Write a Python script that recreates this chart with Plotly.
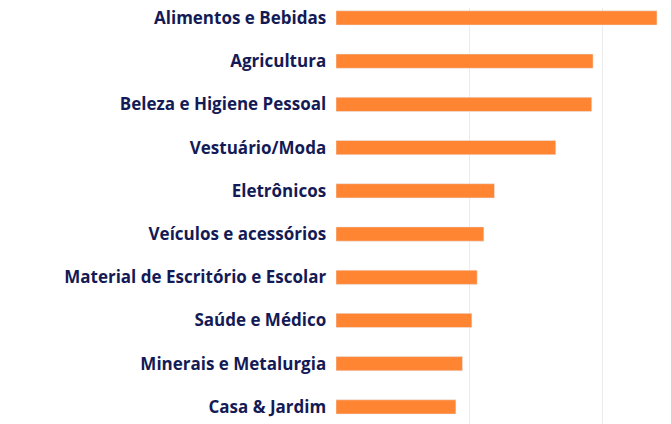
import plotly.graph_objects as go

categories = ["Alimentos e Bebidas", "Agricultura", "Beleza e Higiene Pessoal",
              "Vestuário/Moda", "Eletrônicos", "Veículos e acessórios",
              "Material de Escritório e Escolar", "Saúde e Médico",
              "Minerais e Metalurgia", "Casa & Jardim"]
values = [241, 193, 192, 165, 119, 111, 106, 102, 95, 90]

fig = go.Figure(go.Bar(
    x=values, y=categories, orientation="h",
    marker_color="#ff8533", width=0.33,
))
fig.update_layout(
    width=671, height=424,
    margin=dict(l=328, r=10, t=0, b=0),
    plot_bgcolor="white", paper_bgcolor="white",
    showlegend=False,
    xaxis=dict(range=[0, 250], tickvals=[100, 200], showticklabels=False,
               showgrid=True, gridcolor="#ebebeb", zeroline=False),
    yaxis=dict(categoryorder="array", categoryarray=categories,
               range=[9.58, -0.23], ticksuffix="  ", automargin=False,
               tickfont=dict(family="Open Sans", size=17, color="#141a55")),
)
fig.update_yaxes(tickfont_weight="bold")
fig.write_html("out.html")
